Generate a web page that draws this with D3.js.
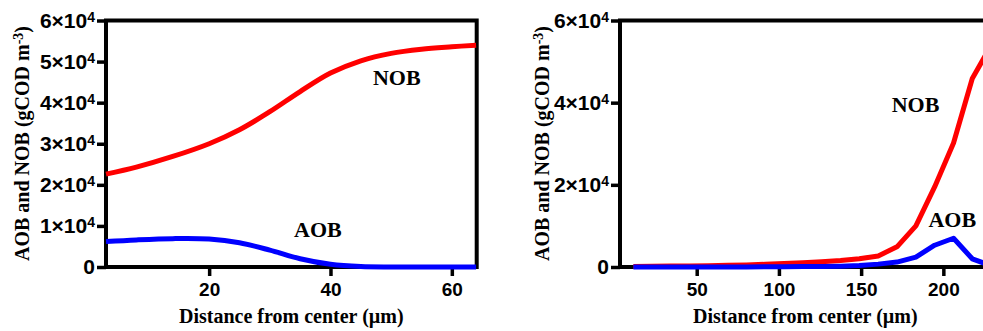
<!DOCTYPE html>
<html>
<head>
<meta charset="utf-8">
<style>
    body { margin: 0; background: #fff; }
    svg { display: block; font-family: "Liberation Serif", "Times New Roman", serif; font-weight: bold; }
    .frame { fill: none; stroke: #000; stroke-width: 4; }
    .axis path { display: none; }
    .axis line { stroke: #000; stroke-width: 3.5; }
    .axis text { fill: #000; }
    .series { fill: none; stroke-width: 5; stroke-linejoin: round; }
</style>
</head>
<body>
<svg width="983" height="331"></svg>

<script src="https://d3js.org/d3.v7.min.js"></script>
<script>

// left panel: distance (um) vs biomass
let leftDist = [3, 8, 14, 20, 25, 30, 35, 40, 45, 50, 55, 60, 64]
let leftNOB = [22600, 24300, 26900, 30000, 33400, 37800, 42700, 47200, 50200, 52000, 53000, 53600, 54000]
let leftAOB = [6200, 6600, 6900, 6800, 5900, 4100, 2000, 650, 100, 0, 0, 0, 0]
let leftYTicks = [0, 10000, 20000, 30000, 40000, 50000, 60000]
let leftXTicks = [20, 40, 60]

// right panel
let rightDist = [11.5, 23, 34.4, 45.9, 57.3, 68.8, 80.2, 91.7, 103.1, 114.6, 126, 137.5, 148.9, 160.4, 171.8, 183.3, 194.7, 206.2, 217.6, 229.1]
let rightNOB = [150, 180, 220, 270, 320, 400, 500, 650, 850, 1050, 1300, 1600, 2000, 2700, 4900, 10000, 19500, 30200, 45900, 54000]
let rightAOB = [0, 0, 0, 0, 0, 0, 0, 50, 80, 100, 150, 200, 350, 700, 1200, 2400, 5300, 7000, 2000, 300]
let rightYTicks = [0, 20000, 40000, 60000]
let rightXTicks = [50, 100, 150, 200]

let svg = d3.select("svg")

function drawPanel(opt) {
    let x = d3.scaleLinear().domain(opt.xDomain).range([opt.left, opt.right])
    let y = d3.scaleLinear().domain([0, 60000]).range([267, 20.5])

    let g = svg.append("g")

    g.append("rect")
        .attr("class", "frame")
        .attr("x", opt.left)
        .attr("y", y(60000))
        .attr("width", opt.right - opt.left)
        .attr("height", y(0) - y(60000))

    // y axis, labels like 6x10^4
    let yAxis = g.append("g")
        .attr("class", "axis")
        .attr("transform", "translate(" + opt.left + ",0)")
        .call(d3.axisLeft(y).tickValues(opt.yTicks).tickSize(9).tickPadding(2).tickSizeOuter(0))

    yAxis.selectAll("text")
        .style("font-size", "21px")
        .each(function (d) {
            let t = d3.select(this).text(null)
            if (d === 0) { t.text("0"); return }
            t.append("tspan").text((d / 10000) + "\u00d710")
            t.append("tspan").attr("dy", "-0.42em").style("font-size", "14px").text("4")
        })

    let xAxis = g.append("g")
        .attr("class", "axis")
        .attr("transform", "translate(0," + y(0) + ")")
        .call(d3.axisBottom(x).tickValues(opt.xTicks).tickSize(9).tickPadding(7).tickSizeOuter(0))

    xAxis.selectAll("text").style("font-size", "19px")

    let line = d3.line()
        .x(d => x(d[0]))
        .y(d => y(d[1]))
        .curve(opt.curve)

    g.append("path")
        .attr("class", "series")
        .attr("d", line(d3.zip(opt.dist, opt.nob)))
        .style("stroke", "#ff0000")

    g.append("path")
        .attr("class", "series")
        .attr("d", line(d3.zip(opt.dist, opt.aob)))
        .style("stroke", "#0000ff")

    // series labels
    g.append("text")
        .attr("x", x(opt.nobLabel[0]))
        .attr("y", y(opt.nobLabel[1]))
        .style("font-size", "22px")
        .text("NOB")

    g.append("text")
        .attr("x", x(opt.aobLabel[0]))
        .attr("y", y(opt.aobLabel[1]))
        .style("font-size", "22px")
        .text("AOB")

    // axis titles
    g.append("text")
        .attr("x", (opt.left + opt.right) / 2)
        .attr("y", 323)
        .attr("text-anchor", "middle")
        .style("font-size", "20px")
        .text("Distance from center (\u00b5m)")

    let yt = g.append("text")
        .attr("transform", "translate(" + opt.titleX + ",143.5) rotate(-90)")
        .attr("text-anchor", "middle")
        .style("font-size", "20px")
    yt.append("tspan").text("AOB and NOB (gCOD m")
    yt.append("tspan").attr("dy", "-0.45em").style("font-size", "14px").text("-3")
    yt.append("tspan").attr("dy", "0.3em").text(")")
}

drawPanel({
    left: 106, right: 476.7, xDomain: [3, 64.1],
    dist: leftDist, nob: leftNOB, aob: leftAOB,
    yTicks: leftYTicks, xTicks: leftXTicks,
    curve: d3.curveCatmullRom,
    nobLabel: [47, 44300], aobLabel: [34, 7230],
    titleX: 29
})

drawPanel({
    left: 620, right: 990.7, xDomain: [3.35, 228.8],
    dist: rightDist, nob: rightNOB, aob: rightAOB,
    yTicks: rightYTicks, xTicks: rightXTicks,
    curve: d3.curveLinear,
    nobLabel: [168.6, 37660], aobLabel: [190.9, 9810],
    titleX: 549
})

</script>
</body>
</html>
